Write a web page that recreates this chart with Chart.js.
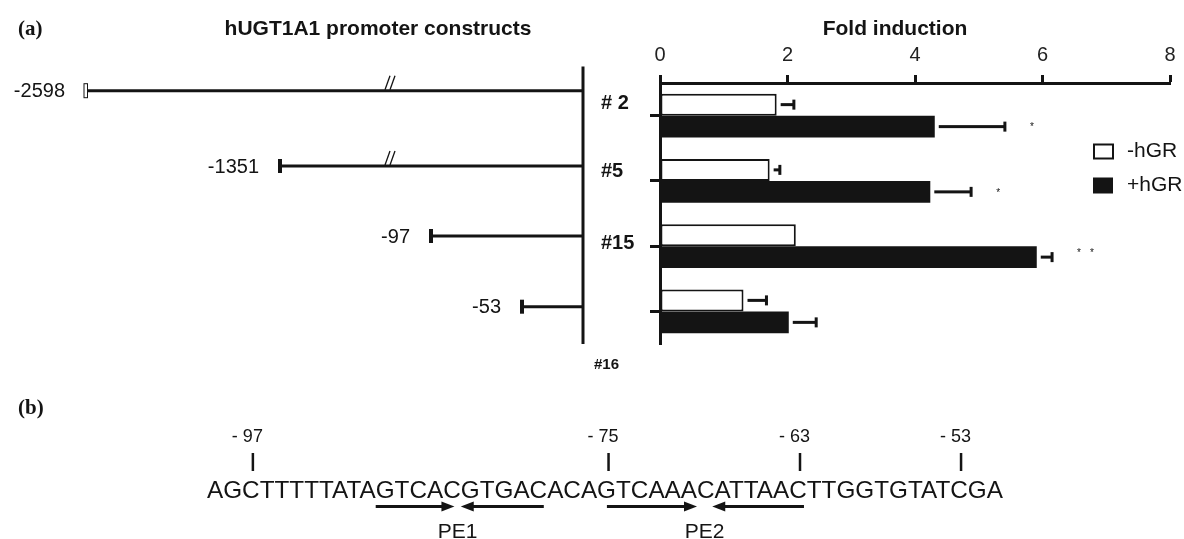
<!DOCTYPE html>
<html>
<head>
<meta charset="utf-8">
<script src="https://cdn.jsdelivr.net/npm/chart.js@4.4.1/dist/chart.umd.min.js"></script>
<style>
html, body { margin: 0; padding: 0; background: #fff; }
#wrap { width: 1184px; height: 539px; }
</style>
</head>
<body>
<div id="wrap"><canvas id="foldChart" width="1184" height="539"></canvas></div>
<script>
// 데이터
const constructs = ['# 2', '#5', '#15', '#16'];
const minusGR = [1.83, 1.72, 2.13, 1.31];
const plusGR = [4.31, 4.24, 5.91, 2.02];
const minusErr = [0.27, 0.16, 0, 0.36];
const plusErr = [1.10, 0.64, 0.24, 0.43];
const signif = ['*', '*', '**', ''];
const promoterStarts = ['-2598', '-1351', '-97', '-53'];
const foldTicks = [0, 2, 4, 6, 8];

// (b) 서열
const sequence = 'AGCTTTTTATAGTCACGTGACACAGTCAAACATTAACTTGGTGTATCGA';
const seqMarks = ['- 97', '- 75', '- 63', '- 53'];
const seqMarkChar = [3, 25, 37, 47];
const elements = ['PE1', 'PE2'];
const elementFwd = [[11.0, 15.64], [24.52, 30.0]];
const elementRev = [[16.0, 20.81], [30.87, 36.84]];

const FONT = "'Liberation Sans', Arial, Helvetica, sans-serif";
const INK = '#141414';

function bar(ctx, x1, y1, x2, y2, w) {
    ctx.beginPath();
    ctx.lineWidth = w;
    ctx.moveTo(x1, y1);
    ctx.lineTo(x2, y2);
    ctx.stroke();
}

function text(ctx, str, x, y, font, align) {
    ctx.font = font;
    ctx.textAlign = align || 'left';
    ctx.textBaseline = 'middle';
    ctx.fillText(str, x, y);
}

const figurePlugin = {
    id: 'figure',
    afterDatasetsDraw(chart) {
        const ctx = chart.ctx;
        const xs = chart.scales.x;
        ctx.save();
        ctx.fillStyle = INK;
        chart.data.datasets.forEach((ds, di) => {
            const meta = chart.getDatasetMeta(di);
            meta.data.forEach((el, i) => {
                const err = ds.errors[i];
                if (!err) return;
                const x0 = el.x + 4;
                const x1 = xs.getPixelForValue(ds.data[i] + err);
                ctx.fillRect(x0, el.y - 1.5, x1 - x0, 3);
                ctx.fillRect(x1 - 1.5, el.y - 5, 3, 10);
                if (di === 1 && signif[i]) {
                    ctx.font = '10px ' + FONT;
                    ctx.textAlign = 'center';
                    ctx.textBaseline = 'middle';
                    for (let k = 0; k < signif[i].length; k++) {
                        ctx.fillText('*', x1 + 27 + k * 13, el.y + (signif[i].length > 1 ? -4 : 1));
                    }
                }
            });
        });
        ctx.restore();
    },
    afterDraw(chart) {
        const ctx = chart.ctx;
        ctx.save();
        ctx.fillStyle = INK;
        ctx.strokeStyle = INK;

        // 제목
        text(ctx, '(a)', 18, 30, 'bold 21px "Liberation Serif", "Times New Roman", serif');
        text(ctx, '(b)', 18, 409, 'bold 21px "Liberation Serif", "Times New Roman", serif');
        text(ctx, 'hUGT1A1 promoter constructs', 378, 29, 'bold 21px ' + FONT, 'center');
        text(ctx, 'Fold induction', 895, 29, 'bold 21px ' + FONT, 'center');

        // 프로모터 구성도
        const spineX = 583;
        const lineY = [90.7, 166, 236, 306.7];
        const startX = [86, 280, 431, 522];
        bar(ctx, spineX, 66.5, spineX, 344, 3);
        promoterStarts.forEach((lbl, i) => {
            bar(ctx, startX[i], lineY[i], spineX, lineY[i], 3);
            if (i === 0) {
                ctx.fillStyle = '#fff';
                ctx.fillRect(startX[i] - 2, lineY[i] - 7, 3.5, 14);
                ctx.lineWidth = 1;
                ctx.strokeRect(startX[i] - 2, lineY[i] - 7, 3.5, 14);
                ctx.fillStyle = INK;
            } else {
                ctx.fillRect(startX[i] - 2, lineY[i] - 7, 4, 14);
            }
            text(ctx, lbl, startX[i] - 21, lineY[i] + 1, '20px ' + FONT, 'right');
            if (i < 2) {
                bar(ctx, 385, lineY[i] - 1, 390, lineY[i] - 15, 1.3);
                bar(ctx, 390, lineY[i] - 1, 395, lineY[i] - 15, 1.3);
            }
        });

        // 구성체 번호
        const labelY = [103, 171.7, 243, 365];
        constructs.forEach((lbl, i) => {
            if (i === 3) text(ctx, lbl, 594, labelY[i], 'bold 15px ' + FONT);
            else text(ctx, lbl, 601, labelY[i], 'bold 20px ' + FONT);
        });

        // 범례
        chart.data.datasets.forEach((ds, i) => {
            const y = 151.5 + i * 34;
            if (i === 0) {
                ctx.lineWidth = 2;
                ctx.strokeRect(1094, y - 7, 19, 14);
            } else {
                ctx.fillRect(1093, y - 8, 20, 16);
            }
            text(ctx, ds.label, 1127, y, '21px ' + FONT);
        });

        // (b) 서열
        const seqX = 207;
        const seqFont = '24.3px ' + FONT;
        ctx.font = seqFont;
        const charX = pos => {
            const n = Math.floor(pos);
            const w0 = ctx.measureText(sequence.slice(0, n)).width;
            const wc = n < sequence.length ? ctx.measureText(sequence[n]).width : 0;
            return seqX + w0 + (pos - n) * wc;
        };
        seqMarkChar.forEach((c, i) => {
            ctx.font = seqFont;
            const x = charX(c - 0.5) + 2;
            bar(ctx, x, 453, x, 471, 2.5);
            ctx.font = '18px ' + FONT;
            const dw = ctx.measureText(seqMarks[i].replace('- ', '')).width;
            text(ctx, seqMarks[i], x + dw / 2, 437, '18px ' + FONT, 'right');
        });
        ctx.font = seqFont;
        ctx.textAlign = 'left';
        ctx.textBaseline = 'alphabetic';
        ctx.fillText(sequence, seqX, 498);

        const arrowY = 506.5;
        const head = (tipX, dir) => {
            ctx.beginPath();
            ctx.moveTo(tipX, arrowY);
            ctx.lineTo(tipX - dir * 13, arrowY - 5);
            ctx.lineTo(tipX - dir * 13, arrowY + 5);
            ctx.closePath();
            ctx.fill();
        };
        elements.forEach((lbl, i) => {
            ctx.font = seqFont;
            const f0 = charX(elementFwd[i][0]), f1 = charX(elementFwd[i][1]);
            const r0 = charX(elementRev[i][0]), r1 = charX(elementRev[i][1]);
            bar(ctx, f0, arrowY, f1 - 10, arrowY, 3);
            head(f1, 1);
            bar(ctx, r0 + 10, arrowY, r1, arrowY, 3);
            head(r0, -1);
            text(ctx, lbl, (f1 + r0) / 2, 532, '21px ' + FONT, 'center');
        });
        ctx.restore();
    }
};

const foldChart = new Chart(document.getElementById('foldChart').getContext('2d'), {
    type: 'bar',
    data: {
        labels: constructs,
        datasets: [{
            label: '-hGR',
            data: minusGR,
            errors: minusErr,
            backgroundColor: '#ffffff',
            borderColor: INK,
            borderWidth: 2,
            borderSkipped: false
        }, {
            label: '+hGR',
            data: plusGR,
            errors: plusErr,
            backgroundColor: INK,
            borderWidth: 0
        }]
    },
    options: {
        indexAxis: 'y',
        responsive: false,
        animation: false,
        layout: {
            padding: { left: 650, right: 14, top: 0, bottom: 195 }
        },
        datasets: {
            bar: { categoryPercentage: 0.674, barPercentage: 1 }
        },
        scales: {
            x: {
                position: 'top',
                min: 0,
                max: 8,
                afterBuildTicks: s => { s.ticks = foldTicks.map(v => ({ value: v })); },
                ticks: {
                    color: '#222',
                    padding: 8,
                    font: { family: FONT, size: 20 }
                },
                grid: {
                    drawOnChartArea: false,
                    tickLength: 8,
                    tickWidth: 3,
                    tickColor: INK
                },
                border: { display: true, color: INK, width: 3 },
                afterFit: s => { s.height = 83; }
            },
            y: {
                ticks: { display: false },
                grid: {
                    offset: false,
                    drawOnChartArea: false,
                    tickLength: 10,
                    tickWidth: 3,
                    tickColor: INK
                },
                border: { display: true, color: INK, width: 3 },
                afterFit: s => { s.width = 10; }
            }
        },
        plugins: {
            legend: { display: false },
            tooltip: { enabled: false }
        }
    },
    plugins: [figurePlugin]
});
</script>
</body>
</html>
